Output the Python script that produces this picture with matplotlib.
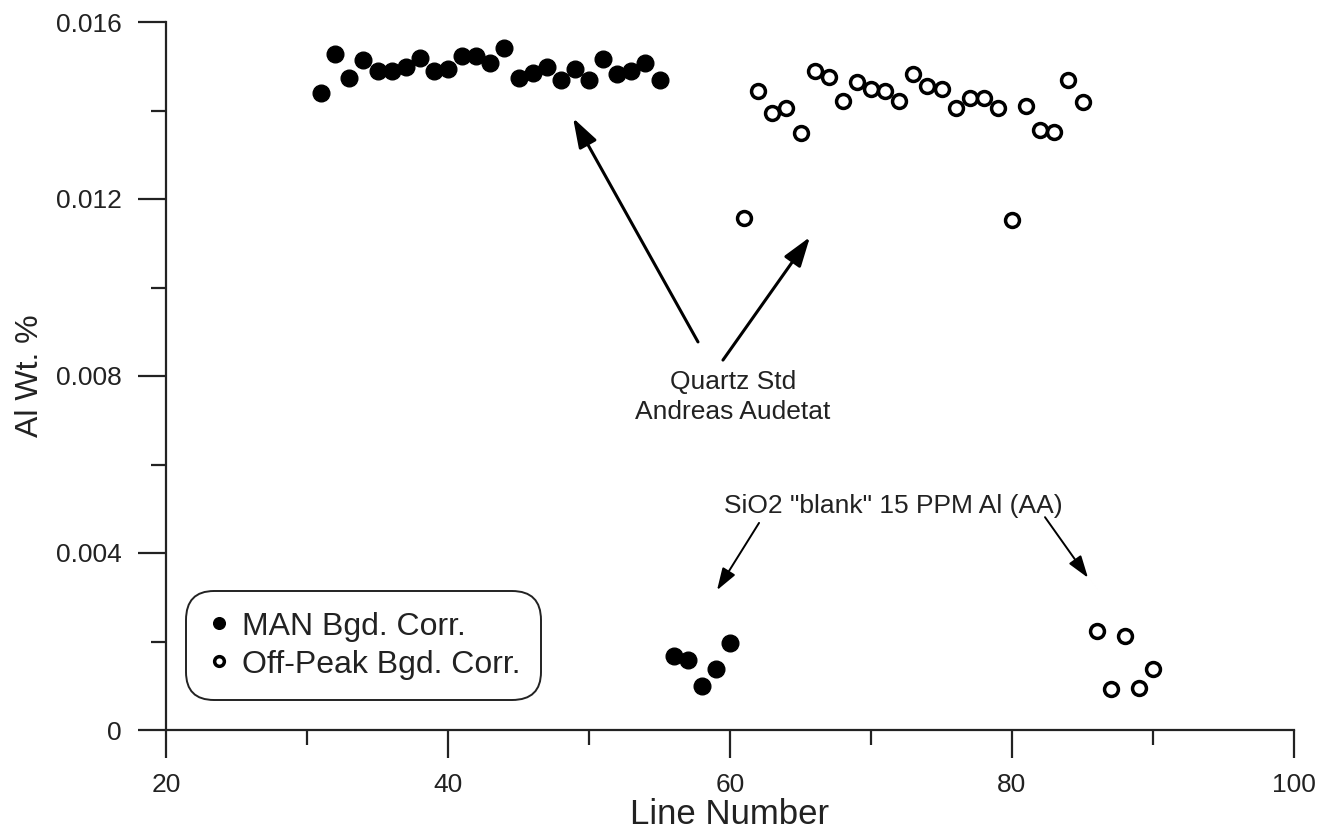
import matplotlib.pyplot as plt
from matplotlib.ticker import MultipleLocator, FixedLocator

plt.rcParams['font.family'] = ['Liberation Sans', 'DejaVu Sans']

# MAN background correction (filled)
man_line = list(range(31, 56)) + [56, 57, 58, 59, 60]
man_al = [0.01440, 0.01527, 0.01473, 0.01514, 0.01489, 0.01489, 0.01499, 0.01518,
          0.01489, 0.01494, 0.01523, 0.01523, 0.01507, 0.01541, 0.01474, 0.01484,
          0.01498, 0.01469, 0.01494, 0.01469, 0.01516, 0.01482, 0.01489, 0.01507,
          0.01469,
          0.00167, 0.00158, 0.00099, 0.00137, 0.00196]

# Off-peak background correction (open)
off_line = list(range(61, 86)) + [86, 87, 88, 89, 90]
off_al = [0.01158, 0.01443, 0.01394, 0.01406, 0.01349, 0.01490, 0.01476, 0.01422,
          0.01464, 0.01449, 0.01443, 0.01422, 0.01482, 0.01456, 0.01448, 0.01406,
          0.01428, 0.01428, 0.01406, 0.01153, 0.01410, 0.01356, 0.01352, 0.01469,
          0.01419,
          0.00224, 0.00092, 0.00212, 0.00096, 0.00137]

ink = '#222222'

fig = plt.figure(figsize=(13.2, 8.36), dpi=100)
ax = fig.add_axes([166 / 1320, 1 - 730 / 836, 1128 / 1320, 708 / 836])

ax.plot(man_line, man_al, 'o', color='black', ms=12, ls='none',
        label='MAN Bgd. Corr.')
ax.plot(off_line, off_al, 'o', mfc='white', mec='black', ms=10, mew=2.5,
        ls='none', label='Off-Peak Bgd. Corr.')

ax.set_xlim(20, 100)
ax.set_ylim(0, 0.016)
ax.xaxis.set_major_locator(MultipleLocator(20))
ax.xaxis.set_minor_locator(FixedLocator([30, 50, 70, 90]))
ax.set_yticks([0, 0.004, 0.008, 0.012, 0.016])
ax.set_yticklabels(['0', '0.004', '0.008', '0.012', '0.016'])
ax.yaxis.set_minor_locator(FixedLocator([0.002, 0.006, 0.010, 0.014]))

for s in ['top', 'right']:
    ax.spines[s].set_visible(False)
for s in ['left', 'bottom']:
    ax.spines[s].set_linewidth(1.6)
    ax.spines[s].set_color(ink)

ax.tick_params(which='major', direction='out', length=20, width=1.6,
               color=ink, labelsize=19, labelcolor=ink)
ax.tick_params(axis='x', which='major', pad=11)
ax.tick_params(axis='y', which='major', pad=12)
ax.tick_params(which='minor', direction='out', length=10.5, width=1.6, color=ink)

ax.set_xlabel('Line Number', fontsize=25, color=ink, labelpad=1)
ax.set_ylabel('Al Wt. %', fontsize=23, color=ink, labelpad=8)

# annotations
ax.text(60.2, 0.00752, 'Quartz Std\nAndreas Audetat', ha='center', va='center',
        fontsize=19, color=ink, linespacing=1.3)
big = dict(arrowstyle='-|>,head_length=0.9,head_width=0.3', color='black',
           lw=2.2, mutation_scale=20, shrinkA=0, shrinkB=0)
ax.annotate('', xy=(48.87, 0.01383), xytext=(57.73, 0.00877), arrowprops=big)
ax.annotate('', xy=(65.67, 0.01114), xytext=(59.50, 0.00836), arrowprops=big)

ax.text(71.6, 0.00506, 'SiO2 "blank" 15 PPM Al (AA)', ha='center', va='center',
        fontsize=19, color=ink)
small = dict(arrowstyle='-|>,head_length=0.9,head_width=0.3', color='black',
             lw=1.4, mutation_scale=15, shrinkA=0, shrinkB=0)
ax.annotate('', xy=(59.08, 0.00316), xytext=(62.06, 0.00468), arrowprops=small)
ax.annotate('', xy=(85.39, 0.00344), xytext=(82.34, 0.00481), arrowprops=small)

leg = ax.legend(loc='lower left', bbox_to_anchor=(192 / 1320, 1 - 694 / 836),
                bbox_transform=fig.transFigure, borderaxespad=0, fontsize=23,
                markerscale=0.7, handletextpad=0.3, handlelength=0.8,
                borderpad=0.45, labelspacing=0.25, fancybox=True, framealpha=1)
leg.get_frame().set_edgecolor(ink)
leg.get_frame().set_linewidth(1.4)
leg.get_frame().set_boxstyle('round,pad=0.2,rounding_size=0.9')
for t in leg.get_texts():
    t.set_color(ink)

fig.savefig('out.png', dpi=100)
